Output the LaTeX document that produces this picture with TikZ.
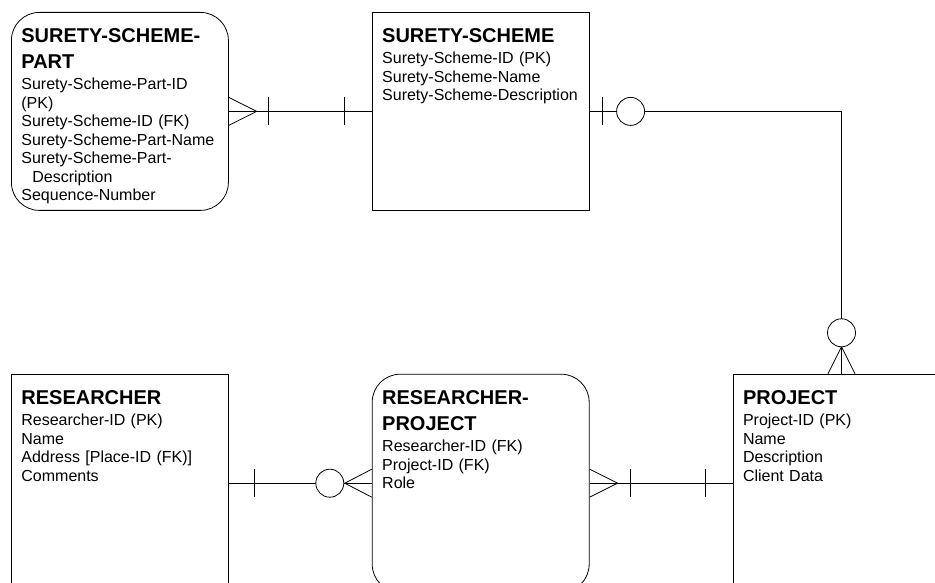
\documentclass[tikz,border=0pt]{standalone}
\usepackage{fontspec}
\setmainfont{Liberation Sans}
\usetikzlibrary{positioning}

\tikzset{
  entity/.style={draw, minimum width=217pt, minimum height=198pt, inner sep=0},
  weakentity/.style={entity, rounded corners=28pt},
  attrs/.style={align=left, text width=212pt, inner sep=0,
    font=\fontsize{16}{18.5}\selectfont},
  optional/.style={circle, draw, fill=white, minimum size=28pt, inner sep=0},
}
\newcommand{\etitle}[1]{{\fontsize{20}{26}\selectfont\bfseries #1\par}\vspace{3pt}}

\begin{document}
\begin{tikzpicture}[x=1pt,y=-1pt,line width=0.8pt,node distance=143pt]
 \useasboundingbox (0,0) rectangle (935,583);
  % entities
  \node[weakentity, anchor=north west] (ssp) at (11,12) {};
  \node[entity] (ss) [right=of ssp] {};
  \node[entity, minimum height=218pt] (res) [below=163pt of ssp] {};
  \node[weakentity, minimum height=218pt] (rp) [right=of res] {};
  \node[entity, minimum height=218pt] (proj) [right=of rp] {};
  % attribute lists
  \node[attrs] (ssp-a) [below right=16pt and 10pt of ssp.north west]
    {\etitle{SURETY-SCHEME-\\PART}
     Surety-Scheme-Part-ID\\(PK)\\Surety-Scheme-ID (FK)\\Surety-Scheme-Part-Name\\
     Surety-Scheme-Part-\\\hspace*{11pt}Description\\Sequence-Number};
  \node[attrs] (ss-a) [below right=16pt and 10pt of ss.north west]
    {\etitle{SURETY-SCHEME}
     Surety-Scheme-ID (PK)\\Surety-Scheme-Name\\Surety-Scheme-Description};
  \node[attrs] (res-a) [below right=16pt and 10pt of res.north west]
    {\etitle{RESEARCHER}
     Researcher-ID (PK)\\Name\\Address [Place-ID (FK)]\\Comments};
  \node[attrs] (rp-a) [below right=16pt and 10pt of rp.north west]
    {\etitle{RESEARCHER-\\PROJECT}
     Researcher-ID (FK)\\Project-ID (FK)\\Role};
  \node[attrs] (proj-a) [below right=16pt and 10pt of proj.north west]
    {\etitle{PROJECT}
     Project-ID (PK)\\Name\\Description\\Client Data};

  % surety-scheme-part >|---| surety-scheme
  \draw (ssp.east) -- (ss.west);
  \draw ([yshift=14pt]ssp.east) -- ([xshift=28pt]ssp.east) -- ([yshift=-14pt]ssp.east);
  \draw ([xshift=40pt,yshift=14pt]ssp.east) -- ++(0,28);
  \draw ([xshift=-27pt,yshift=14pt]ss.west) -- ++(0,28);

  % surety-scheme |o---o< project
  \draw (ss.east) -| (proj.north);
  \draw ([xshift=13pt,yshift=14pt]ss.east) -- ++(0,28);
  \node[optional] (o1) at ([xshift=41pt]ss.east) {};
  \draw ([xshift=-13.5pt]proj.north) -- ([yshift=27pt]proj.north) -- ([xshift=13.5pt]proj.north);
  \node[optional] (o2) at ([yshift=41pt]proj.north) {};

  % researcher |---o< researcher-project
  \draw (res.east) -- (rp.west);
  \draw ([xshift=26pt,yshift=14pt]res.east) -- ++(0,28);
  \draw ([yshift=14pt]rp.west) -- ([xshift=-27pt]rp.west) -- ([yshift=-14pt]rp.west);
  \node[optional] (o3) at ([xshift=-42pt]rp.west) {};

  % researcher-project >|---| project
  \draw (rp.east) -- (proj.west);
  \draw ([yshift=14pt]rp.east) -- ([xshift=28pt]rp.east) -- ([yshift=-14pt]rp.east);
  \draw ([xshift=41pt,yshift=14pt]rp.east) -- ++(0,28);
  \draw ([xshift=-27pt,yshift=14pt]proj.west) -- ++(0,28);
\end{tikzpicture}
\end{document}
